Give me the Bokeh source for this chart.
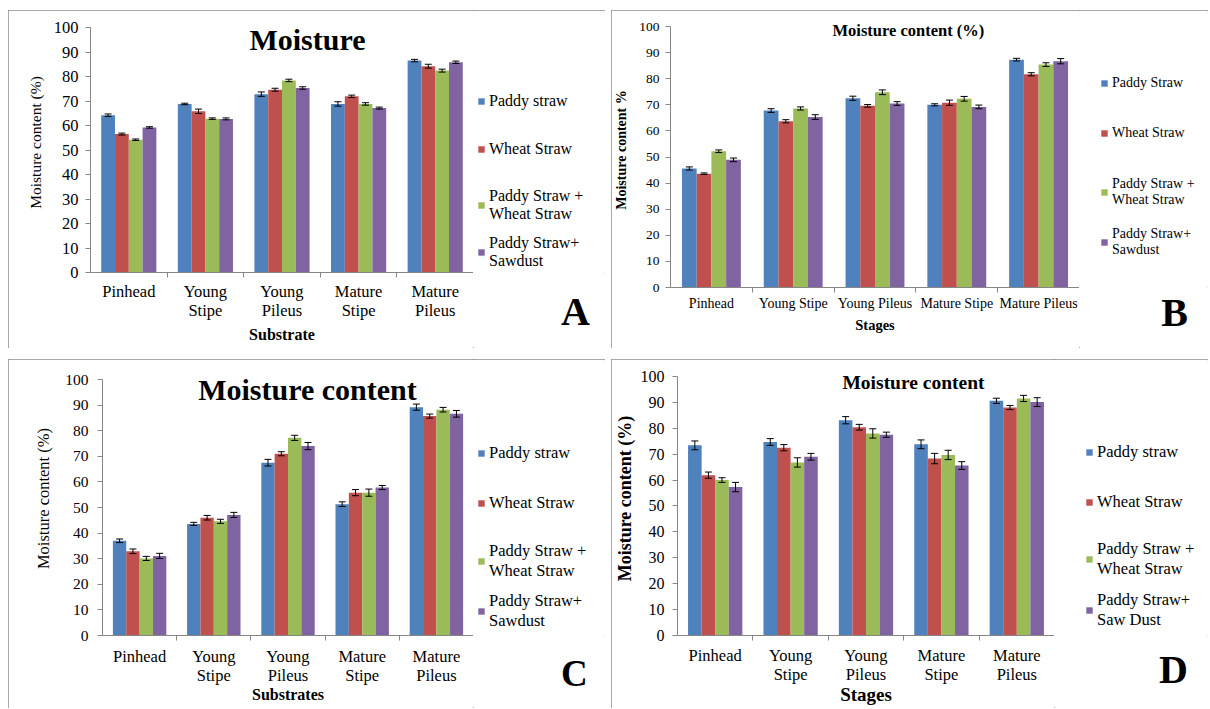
from bokeh.plotting import figure
from bokeh.models import (ColumnDataSource, FactorRange, Range1d, LinearAxis, CategoricalAxis,
                          SingleIntervalTicker, Legend, LegendItem, Label, Title, CategoricalScale)
from bokeh.transform import dodge
from bokeh.layouts import column, row
from bokeh.embed import file_html
from bokeh.resources import INLINE

FONT = "Liberation Serif"
GRAY = "#868686"
colors = ["#4F81BD", "#C0504D", "#9BBB59", "#8064A2"]

stages_two = ["Pinhead", "Young\nStipe", "Young\nPileus", "Mature\nStipe", "Mature\nPileus"]
stages_one = ["Pinhead", "Young Stipe", "Young Pileus", "Mature Stipe", "Mature Pileus"]
separators = ["s0", "s1", "s2", "s3", "s4", "s5"]

names_a = ["Paddy straw", "Wheat Straw", "Paddy Straw +\nWheat Straw", "Paddy Straw+\nSawdust"]
names_b = ["Paddy Straw", "Wheat Straw", "Paddy Straw +\nWheat Straw", "Paddy Straw+\nSawdust"]
names_d = ["Paddy straw", "Wheat Straw", "Paddy Straw +\nWheat Straw", "Paddy Straw+\nSaw Dust"]

# Panel A
a_paddy = [64.2, 68.8, 72.8, 68.8, 86.5]
a_wheat = [56.5, 65.8, 74.6, 71.9, 84.2]
a_pw = [54.2, 62.8, 78.4, 68.8, 82.4]
a_ps = [59.2, 62.7, 75.3, 67.1, 85.8]
a_err = [[0.5, 0.3, 0.9, 0.9, 0.5], [0.4, 0.9, 0.6, 0.5, 0.8],
         [0.3, 0.3, 0.5, 0.5, 0.6], [0.3, 0.4, 0.5, 0.4, 0.5]]

# Panel B
b_paddy = [45.6, 67.8, 72.5, 70.0, 87.3]
b_wheat = [43.6, 63.7, 69.6, 70.8, 81.7]
b_pw = [52.2, 68.6, 74.8, 72.3, 85.4]
b_ps = [48.9, 65.3, 70.5, 69.2, 86.7]
b_err = [[0.6, 0.7, 0.8, 0.4, 0.5], [0.3, 0.6, 0.5, 1.0, 0.6],
         [0.5, 0.6, 0.9, 0.9, 0.7], [0.7, 0.9, 0.7, 0.7, 1.0]]

# Panel C
c_paddy = [37.0, 43.6, 67.5, 51.3, 89.2]
c_wheat = [32.9, 46.0, 71.0, 55.8, 85.7]
c_pw = [30.1, 44.6, 77.2, 55.8, 88.2]
c_ps = [31.1, 47.1, 74.0, 57.8, 86.6]
c_err = [[0.7, 0.6, 1.3, 0.9, 1.2], [0.9, 0.9, 0.8, 1.2, 0.8],
         [0.8, 0.8, 1.0, 1.4, 0.9], [1.0, 1.0, 1.4, 0.8, 1.3]]

# Panel D
d_paddy = [73.4, 74.7, 83.1, 73.8, 90.6]
d_wheat = [61.9, 72.5, 80.4, 68.3, 88.0]
d_pw = [60.0, 66.8, 78.0, 69.7, 91.5]
d_ps = [57.3, 69.0, 77.5, 65.6, 90.1]
d_err = [[1.7, 1.3, 1.4, 1.7, 1.0], [1.2, 1.2, 1.1, 2.0, 0.8],
         [0.9, 1.8, 1.8, 1.8, 1.2], [1.8, 1.3, 1.0, 1.5, 1.7]]

offsets = [-0.27, -0.09, 0.09, 0.27]
BW = 0.18


def make_main(cats, series, errs, cfg):
    H, mt, mb = cfg["h"], cfg["mt"], cfg["mb"]
    y_end = 100.0 * (H - 2 - mb) / (H - mt - mb)   # room above 100 for the title
    p = figure(width=cfg["w"], height=H,
               x_range=FactorRange(*cats, range_padding=0, factor_padding=0),
               y_range=Range1d(0, y_end),
               x_axis_location=None, y_axis_location=None,
               output_backend="svg", toolbar_location=None,
               min_border_left=cfg["ml"], min_border_right=0,
               min_border_top=2, min_border_bottom=mb)
    p.outline_line_color = None
    p.xgrid.visible = False
    p.ygrid.visible = False

    yax = LinearAxis(ticker=SingleIntervalTicker(interval=10), bounds=(0, 100),
                     axis_line_color=GRAY,
                     major_tick_line_color=GRAY, major_tick_out=5, major_tick_in=0,
                     minor_tick_line_color=None,
                     major_label_text_font=FONT, major_label_text_font_size=cfg["tick_fs"],
                     major_label_text_color="black", major_label_standoff=cfg["tick_so"],
                     axis_label=cfg["ylabel"], axis_label_text_font=FONT,
                     axis_label_text_font_size=cfg["ylab_fs"],
                     axis_label_text_font_style=cfg["ylab_style"],
                     axis_label_text_color="black", axis_label_standoff=cfg["ylab_so"])
    p.add_layout(yax, "left")

    # tick marks on the boundaries between the categories
    p.extra_x_ranges = {"sep": FactorRange(*separators, factor_padding=0,
                                           range_padding=-0.5, range_padding_units="absolute")}
    p.extra_x_scales = {"sep": CategoricalScale()}
    sep = CategoricalAxis(x_range_name="sep",
                          axis_line_color=GRAY, major_tick_line_color=GRAY,
                          major_tick_out=5, major_tick_in=0, minor_tick_line_color=None,
                          major_label_text_font_size="0px", major_label_standoff=0)
    p.add_layout(sep, "below")
    cax = CategoricalAxis(axis_line_color=None, major_tick_line_color=None,
                          minor_tick_line_color=None,
                          major_label_text_font=FONT, major_label_text_font_size=cfg["cat_fs"],
                          major_label_text_line_height=1.05,
                          major_label_text_color="black", major_label_standoff=cfg["cat_so"],
                          axis_label=cfg["xlabel"], axis_label_text_font=FONT,
                          axis_label_text_font_size=cfg["xlab_fs"],
                          axis_label_text_font_style="bold", axis_label_text_color="black",
                          axis_label_standoff=cfg["xlab_so"])
    p.add_layout(cax, "below")

    for i, (vals, er) in enumerate(zip(series, errs)):
        src = ColumnDataSource(dict(x=cats, top=vals,
                                    lo=[v - e for v, e in zip(vals, er)],
                                    hi=[v + e for v, e in zip(vals, er)]))
        xd = dodge("x", offsets[i], range=p.x_range)
        p.vbar(x=xd, top="top", width=BW, source=src, fill_color=colors[i], line_color=None)
        p.segment(x0=xd, y0="lo", x1=xd, y1="hi", source=src, line_color="black", line_width=1)
        p.scatter(x=xd, y="hi", marker="dash", size=7, line_color="black", source=src)
        p.scatter(x=xd, y="lo", marker="dash", size=7, line_color="black", source=src)

    p.add_layout(Label(x=cfg["title_x"], y=cfg["title_y"], x_units="screen", y_units="screen",
                       text=cfg["title"], text_align="center", text_baseline="middle",
                       text_font=FONT, text_font_style="bold",
                       text_font_size=cfg["title_fs"], text_color="black"))
    return p


def make_side(names, cfg):
    W, H, mb = cfg["sw"], cfg["h"], cfg["mb"]
    s = figure(width=W, height=H, x_range=Range1d(0, 1), y_range=Range1d(0, 1),
               x_axis_location=None, y_axis_location=None,
               output_backend="svg", toolbar_location=None,
               min_border_left=0, min_border_right=0, min_border_top=0, min_border_bottom=0)
    s.outline_line_color = None
    s.xgrid.visible = False
    s.ygrid.visible = False
    fs = cfg["leg_fs"]
    pitch = fs * 1.12
    frame_bottom = H - mb          # frame is aligned with the main plot's frame
    for i, name in enumerate(names):
        r = s.vbar(x=[0.5], top=[0], width=0, fill_color=colors[i], line_color=None)
        nlines = name.count("\n") + 1
        bottom_from_top = cfg["leg_c"][i] + 0.65 * fs + (nlines - 1) * pitch
        leg = Legend(items=[LegendItem(label=name, renderers=[r])],
                     location=(cfg["leg_x"], frame_bottom - bottom_from_top),
                     border_line_color=None, background_fill_alpha=0,
                     padding=0, margin=0, spacing=0,
                     glyph_width=8, glyph_height=8, label_standoff=4,
                     label_text_font=FONT, label_text_font_size=f"{fs}px",
                     label_text_line_height=1.0,
                     label_text_color="black", label_height=8)
        s.add_layout(leg)
    s.add_layout(Title(text=cfg["letter"], align="left", offset=cfg["let_off"],
                       standoff=cfg["let_so"], text_font=FONT, text_font_style="bold",
                       text_line_height=0.75,
                       text_font_size=cfg["let_fs"], text_color="black"), "below")
    return s


def panel(cats, series, errs, names, cfg):
    r = row(make_main(cats, series, errs, cfg), make_side(names, cfg), spacing=0)
    r.styles = {"outline": "1.5px solid #8c8c8c", "outline-offset": "-1.5px"}
    return r


cfgA = dict(w=465, sw=132, h=338, ml=82, mt=17, mb=76,
            tick_fs="16.5px", tick_so=7, cat_fs="16.5px", cat_so=-2,
            ylabel="Moisture content (%)", ylab_fs="15.5px", ylab_style="normal", ylab_so=7,
            xlabel="Substrate", xlab_fs="16px", xlab_so=3,
            leg_x=4, leg_c=[90, 138, 185, 232], leg_fs=16,
            title="Moisture", title_x=217, title_y=233, title_fs="30px",
            letter="A", let_off=87.5, let_so=28, let_fs="40px")
cfgB = dict(w=468, sw=129, h=338, ml=57, mt=16, mb=61,
            tick_fs="13.5px", tick_so=6, cat_fs="14px", cat_so=-3,
            ylabel="Moisture content %", ylab_fs="14px", ylab_style="bold", ylab_so=7,
            xlabel="Stages", xlab_fs="14.5px", xlab_so=3,
            leg_x=21, leg_c=[72, 122, 173, 223], leg_fs=14,
            title="Moisture  content (%)", title_x=240, title_y=257.5, title_fs="16.5px",
            letter="B", let_off=81.7, let_so=0, let_fs="40px")
cfgC = dict(w=465, sw=132, h=349, ml=94, mt=20, mb=73,
            tick_fs="15.5px", tick_so=9, cat_fs="16.5px", cat_so=0,
            ylabel="Moisture content (%)", ylab_fs="16.5px", ylab_style="normal", ylab_so=9,
            xlabel="Substrates", xlab_fs="16px", xlab_so=-2,
            leg_x=4, leg_c=[93, 143, 193, 243], leg_fs=16.5,
            title="Moisture content", title_x=205, title_y=246, title_fs="30px",
            letter="C", let_off=87.6, let_so=30, let_fs="37px")
cfgD = dict(w=443, sw=154, h=349, ml=63, mt=17, mb=72,
            tick_fs="16px", tick_so=8, cat_fs="16.5px", cat_so=-1,
            ylabel="Moisture content (%)", ylab_fs="18px", ylab_style="bold", ylab_so=3,
            xlabel="Stages", xlab_fs="19px", xlab_so=-3,
            leg_x=31, leg_c=[93, 143, 192, 243], leg_fs=16.5,
            title="Moisture content", title_x=236, title_y=253.5, title_fs="19.5px",
            letter="D", let_off=104.6, let_so=19, let_fs="40px")

pA = panel(stages_two, [a_paddy, a_wheat, a_pw, a_ps], a_err, names_a, cfgA)
pB = panel(stages_one, [b_paddy, b_wheat, b_pw, b_ps], b_err, names_b, cfgB)
pC = panel(stages_two, [c_paddy, c_wheat, c_pw, c_ps], c_err, names_a, cfgC)
pD = panel(stages_two, [d_paddy, d_wheat, d_pw, d_ps], d_err, names_d, cfgD)

layout = column(row(pA, pB, spacing=6), row(pC, pD, spacing=6), spacing=11)
layout.margin = (10, 0, 0, 8)
open("out.html", "w").write(file_html(layout, INLINE))
